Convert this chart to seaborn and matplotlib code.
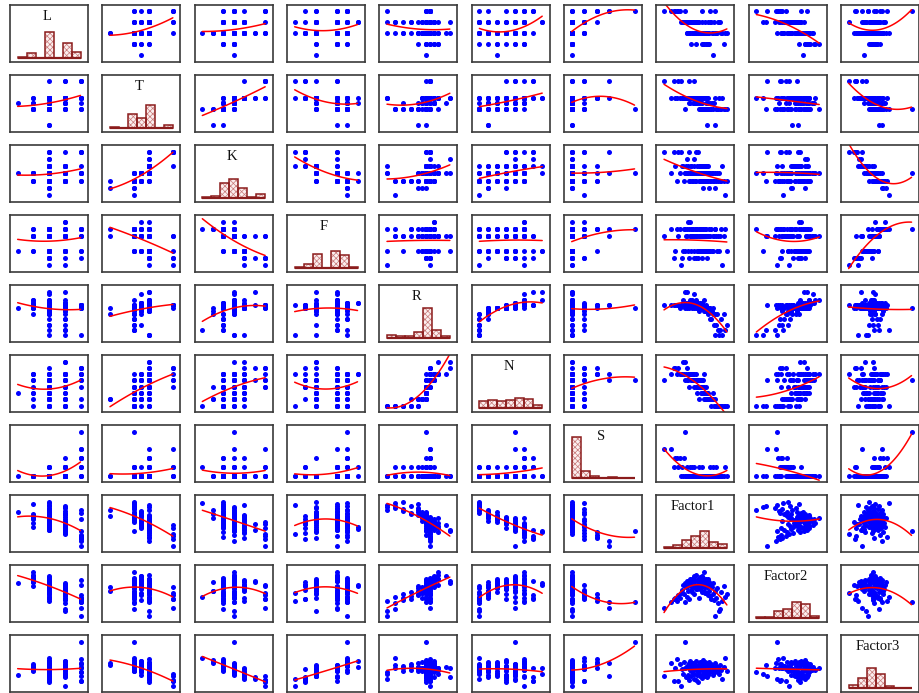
import numpy as np
import pandas as pd
import matplotlib
matplotlib.use("Agg")
import matplotlib.pyplot as plt
import seaborn as sns

# ---- data: one value per respondent (100 cases) ----
L_vals = [5, 5, 5, 5, 5, 5, 5, 4, 4, 4,
          4, 4, 5, 4, 3, 3, 4, 4, 3, 3,
          3, 4, 4, 2, 4, 3, 4, 4, 3, 4,
          3, 3, 4, 3, 3, 2, 4, 4, 3, 4,
          3, 3, 3, 4, 3, 3, 3, 3, 3, 3,
          3, 3, 3, 2, 3, 5, 4, 3, 2, 3,
          3, 3, 3, 3, 2, 3, 3, 3, 4, 2,
          3, 3, 3, 2, 3, 3, 4, 2, 3, 3,
          2, 4, 5, 4, 3, 3, 1, 4, 3, 5,
          3, 3, 4, 4, 4, 3, 3, 2, 3, 3]

T_vals = [5, 3.5, 5, 3.5, 3.5, 5, 3.5, 5, 3.5, 3.5,
          3.5, 3.5, 2.5, 3.5, 3.5, 3.5, 3.5, 3.5, 3, 5,
          3.5, 3, 3.5, 3.5, 3.5, 3.5, 3.5, 3.5, 3, 5,
          3, 3.5, 3.5, 3, 3.5, 3.5, 3, 3.5, 3, 3,
          3.5, 3.5, 2.5, 3.5, 3.5, 3, 3, 2.5, 3.5, 3,
          3, 3.5, 2.5, 3, 3.5, 2.5, 3.5, 3.5, 2.5, 3.5,
          2.5, 3.5, 3.5, 2.5, 2.5, 3.5, 2.5, 2.5, 3.5, 2.5,
          3.5, 2.5, 3, 3, 1, 3.5, 3, 2.5, 3.5, 2.5,
          2.5, 2.5, 3, 2.5, 3, 2.5, 3, 3, 1, 3.5,
          2.5, 2.5, 2.5, 3.5, 2.5, 2.5, 3.5, 2.5, 2.5, 2.5]

K_vals = [7, 4, 7, 5, 3, 7, 4, 7, 5, 5,
          3, 4, 4, 5, 4, 6, 4, 5, 3, 7,
          4, 3, 5, 4, 5, 4, 3, 4, 3, 5,
          4, 6, 4, 3, 7, 4, 3, 5, 4, 4,
          4, 7, 3, 4, 5, 4, 4, 3, 5, 4,
          3, 5, 3, 4, 5, 3, 4, 4, 3, 5,
          2, 4, 5, 3, 4, 5, 4, 3, 4, 3,
          5, 3, 4, 4, 3, 5, 4, 3, 5, 2,
          4, 3, 4, 3, 4, 3, 4, 3, 2, 4,
          3, 4, 3, 4, 3, 3, 5, 3, 1, 3]

F_vals = [5, 6, 2, 3, 6, 5, 6, 1, 2, 3,
          6, 3, 6, 5, 6, 5, 7, 3, 6, 2,
          5, 7, 5, 6, 3, 5, 6, 5, 6, 3,
          5, 2, 5, 6, 2, 5, 6, 3, 5, 6,
          3, 2, 6, 5, 3, 5, 5, 6, 3, 5,
          3, 3, 6, 5, 2, 5, 5, 3, 6, 3,
          6, 5, 3, 3, 5, 3, 5, 6, 3, 5,
          3, 6, 5, 3, 5, 2, 5, 5, 3, 6,
          3, 5, 3, 6, 3, 5, 3, 5, 6, 6,
          5, 3, 5, 3, 5, 6, 1, 5, 6, 3]

R_vals = [3.75, 3.75, 3.75, 3.75, 3.75, 3.75, 3.5, 3.75, 3.75, 4.25,
          3.75, 5.0, 3.5, 4.0, 3.5, 5.0, 4.0, 3.75, 4.0, 3.5,
          4.25, 4.0, 3.75, 4.0, 3.75, 4.25, 3.5, 3.75, 4.0, 3.75,
          4.75, 3.75, 3.5, 4.0, 3.75, 4.25, 3.5, 3.5, 3.75, 3.5,
          4.0, 3.5, 3.75, 3.25, 3.75, 3.5, 4.0, 3.5, 3.5, 3.75,
          3.5, 3.75, 3.5, 4.0, 3.5, 3.75, 3.5, 3.5, 3.75, 3.5,
          3.5, 3.25, 3.5, 3.5, 4.25, 3.5, 3.5, 3.5, 3.25, 3.75,
          3.5, 3.5, 3.25, 3.5, 3.5, 3.5, 3.0, 3.5, 3.5, 3.25,
          3.5, 2.5, 3.5, 2.5, 3.25, 3.0, 3.5, 2.0, 3.0, 1.0,
          2.0, 3.0, 1.5, 1.0, 1.5, 2.5, 1.0, 3.0, 1.5, 2.0]

N_vals = [5, 6, 7, 7, 6, 7, 6, 6, 6, 8,
          6, 8, 5, 6, 5, 7, 6, 5, 6, 4,
          6, 6, 5, 6, 6, 6, 5, 5, 6, 5,
          6, 5, 4, 5, 5, 6, 4, 4, 5, 3,
          5, 4, 5, 2, 5, 4, 5, 4, 4, 5,
          4, 4, 3, 5, 4, 4, 3, 4, 5, 3,
          4, 2, 4, 3, 6, 3, 3, 3, 2, 4,
          3, 3, 2, 3, 2, 2, 2, 3, 2, 2,
          2, 2, 2, 1, 2, 2, 3, 1, 2, 1,
          1, 1, 1, 1, 1, 1, 1, 1, 1, 1]

S_vals = [3, 3, 1, 2, 2, 1, 2, 0, 1, 0,
          2, 0, 5, 0, 1, 0, 0, 0, 0, 0,
          0, 1, 0, 0, 0, 0, 1, 0, 0, 0,
          0, 0, 1, 0, 0, 0, 0, 0, 0, 0,
          0, 0, 0, 1, 0, 0, 0, 0, 0, 0,
          0, 0, 0, 0, 0, 0, 1, 0, 0, 0,
          0, 0, 0, 0, 0, 0, 0, 0, 0, 0,
          0, 0, 0, 0, 0, 0, 0, 0, 0, 0,
          0, 1, 0, 0, 0, 1, 0, 0, 0, 0,
          1, 0, 0, 0, 0, 0, 0, 0, 1, 0]

factor1 = [-3.00, -2.52, -2.30, -2.18, -2.05, -1.95, -1.85, -1.74, -1.67, -1.61,
           -1.54, -1.50, -1.45, -1.41, -1.35, -1.32, -1.26, -1.23, -1.17, -1.15,
           -1.11, -1.08, -1.06, -1.04, -1.01, -0.98, -0.93, -0.92, -0.87, -0.84,
           -0.83, -0.78, -0.77, -0.71, -0.69, -0.66, -0.65, -0.60, -0.57, -0.56,
           -0.51, -0.48, -0.47, -0.44, -0.42, -0.40, -0.38, -0.36, -0.34, -0.33,
           -0.30, -0.28, -0.27, -0.24, -0.22, -0.21, -0.19, -0.17, -0.15, -0.14,
           -0.12, -0.10, -0.09, -0.07, -0.05, -0.03, -0.02, 0.00, 0.02, 0.04,
           0.05, 0.08, 0.10, 0.11, 0.14, 0.16, 0.19, 0.21, 0.24, 0.27,
           0.31, 0.36, 0.40, 0.45, 0.49, 0.55, 0.58, 0.64, 0.70, 0.76,
           0.83, 0.90, 0.97, 1.05, 1.12, 1.20, 1.28, 1.37, 1.48, 1.60]

factor2 = [-2.05, -1.40, -1.10, -0.95, -1.25, -0.70, -1.00, -0.45, -0.20, 0.35,
           -0.60, 0.60, -1.35, 0.15, -0.85, 0.80, 0.25, -0.30, 0.55, -1.05,
           0.95, 0.40, -0.15, 0.70, 0.30, 0.98, -0.40, 0.12, 0.85, 0.10,
           1.25, 0.65, -0.55, 0.90, 0.20, 1.40, -0.05, -0.10, 0.75, 0.05,
           1.00, 0.35, 0.60, -0.95, 0.80, 0.15, 1.15, 0.38, -0.05, 0.95,
           0.30, 0.70, 0.00, 1.30, 0.40, 0.85, -0.35, 0.55, 1.05, 0.20,
           0.65, -0.30, 0.90, 0.35, 1.70, 0.10, 0.75, 0.22, -0.50, 1.00,
           0.25, 0.60, -0.45, 0.80, 0.15, 0.30, -0.65, 0.95, 0.30, -0.30,
           0.70, -0.80, 0.40, -1.10, 0.10, -0.60, 0.55, -1.20, -0.25, -2.80,
           -0.95, 0.05, -1.45, -2.35, -2.10, -0.40, -1.30, 0.25, -0.90, -0.55]

factor3 = [-0.90, 1.00, -1.60, 0.30, 1.50, -1.50, 0.80, -2.20, 0.10, -0.60,
           1.10, 0.20, 3.90, -0.95, 0.60, -1.00, 0.40, -0.70, 0.90, -1.45,
           0.05, 1.30, -0.20, 0.50, -0.85, 0.25, 0.75, -0.10, 1.00, -0.50,
           0.35, -1.20, 0.15, 0.70, -1.40, 0.00, 1.20, -0.75, 0.30, 0.55,
           -0.25, -1.70, 0.85, 0.20, -0.60, 0.40, -0.05, 1.05, -0.90, 0.15,
           0.60, -0.80, 0.95, 0.10, -1.10, 0.45, 0.25, -0.15, 0.80, -0.55,
           1.40, 0.05, -0.65, 0.65, 0.20, -0.80, 0.35, 1.15, -0.05, 0.50,
           -0.45, 0.90, 0.30, -0.20, 0.70, -1.00, 0.10, 0.35, -0.65, 1.10,
           0.00, 0.55, -0.35, 0.85, -0.10, 0.40, -0.70, 0.20, 1.00, -0.30,
           0.60, -0.15, 0.25, -0.55, 0.75, 0.05, -1.25, 0.35, 1.70, -0.20]

names = ["L", "T", "K", "F", "R", "N", "S", "Factor1", "Factor2", "Factor3"]
df = pd.DataFrame({"L": L_vals, "T": T_vals, "K": K_vals, "F": F_vals,
                   "R": R_vals, "N": N_vals, "S": S_vals,
                   "Factor1": factor1, "Factor2": factor2, "Factor3": factor3})

sns.set_style("white")
plt.rcParams["font.family"] = ["Liberation Serif", "DejaVu Serif"]
plt.rcParams["hatch.linewidth"] = 0.5

BAR_EDGE = "#8b1c1c"
HATCH_COL = "#c87a7a"

fig, axes = plt.subplots(10, 10, figsize=(9.2, 6.93), dpi=100)
fig.subplots_adjust(left=0.011, right=0.999, bottom=0.001, top=0.993,
                    wspace=0.185, hspace=0.23)

n = len(df)

def lims(v, pad):
    lo, hi = df[v].min(), df[v].max()
    r = hi - lo
    return lo - pad * r, hi + pad * r

for i, yv in enumerate(names):
    for j, xv in enumerate(names):
        ax = axes[i, j]
        if i == j:
            # hatched histogram, 7 bins, common count scale
            sns.histplot(x=df[xv], bins=7, ax=ax, color="#fbeeee",
                         edgecolor=HATCH_COL, hatch="xxxxxx", linewidth=0,
                         alpha=1)
            sns.histplot(x=df[xv], bins=7, ax=ax, fill=False,
                         color=BAR_EDGE, linewidth=1.1)
            ax.plot([df[xv].min(), df[xv].max()], [0, 0],
                    color=BAR_EDGE, lw=1.6, solid_capstyle="butt")
            ax.set_ylim(-0.078 * n, 1.033 * n)
            ax.text(0.47, 0.80, xv, transform=ax.transAxes, ha="center",
                    va="center", fontsize=10.5, color="#111111")
        else:
            sns.scatterplot(x=df[xv], y=df[yv], ax=ax, color="#0000ff",
                            s=13, linewidth=0, alpha=1)
            sns.regplot(x=df[xv], y=df[yv], ax=ax, order=2, scatter=False,
                        ci=None, truncate=True,
                        line_kws=dict(color="#ff0000", lw=1.1))
            ax.set_ylim(*lims(yv, 0.15))
        ax.set_xlim(*lims(xv, 0.12))
        ax.set_xlabel("")
        ax.set_ylabel("")
        ax.set_xticks([])
        ax.set_yticks([])
        for sp in ax.spines.values():
            sp.set_color("#3a3a3a")
            sp.set_linewidth(1.2)

fig.savefig("out.png", dpi=100)
